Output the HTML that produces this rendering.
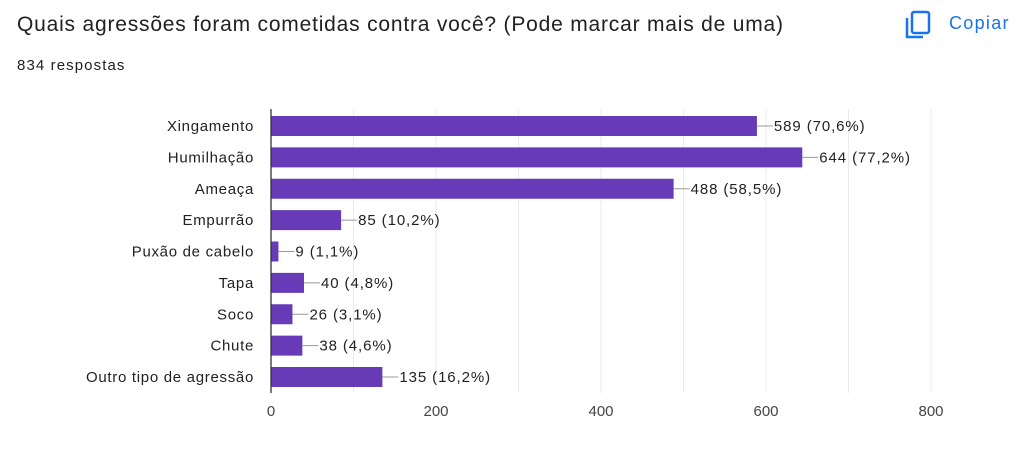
<!DOCTYPE html>
<html><head><meta charset="utf-8"><style>
body{margin:0;width:1024px;height:456px;background:#fff;font-family:"Liberation Sans",Arial,sans-serif;overflow:hidden;position:relative}
.t{position:absolute;left:17px;top:13px;font-size:21px;letter-spacing:0.8px;color:#202124}
.s{position:absolute;left:17px;top:57px;font-size:15px;letter-spacing:1.1px;color:#202124}
.c{position:absolute;left:949px;top:13px;font-size:18px;letter-spacing:1.3px;color:#1a73e8}
</style></head><body>
<div class="t">Quais agressões foram cometidas contra você? (Pode marcar mais de uma)</div>
<div class="s">834 respostas</div>
<svg style="position:absolute;left:905px;top:10px" width="28" height="30"><rect x="7" y="2" width="17" height="21" rx="2" fill="none" stroke="#1a73e8" stroke-width="2.5"/><path d="M2 8 V27 H18" fill="none" stroke="#1a73e8" stroke-width="2.5"/></svg>
<div class="c">Copiar</div>
<svg id="ch" width="1024" height="456" style="position:absolute;left:0;top:0"></svg>
<script>
const categories=["Xingamento","Humilhação","Ameaça","Empurrão","Puxão de cabelo","Tapa","Soco","Chute","Outro tipo de agressão"];
const values=[589,644,488,85,9,40,26,38,135];
const percents=["70,6%","77,2%","58,5%","10,2%","1,1%","4,8%","3,1%","4,6%","16,2%"];
const ticks=[0,200,400,600,800];
const gridTicks=[100,200,300,400,500,600,700,800];
const svg=document.getElementById('ch');const NS="http://www.w3.org/2000/svg";
const x=v=>271+v*660/800;const yc=i=>126+i*31.375;
function mk(t,a){const e=document.createElementNS(NS,t);for(const k in a)e.setAttribute(k,a[k]);svg.appendChild(e);return e;}
gridTicks.forEach(v=>{const g=mk('line',{x1:x(v),x2:x(v),y1:109,y2:393,stroke:'#ebebeb'});

});
ticks.forEach(v=>{const t=mk('text',{x:x(v),y:416,'text-anchor':'middle','font-size':15,fill:'#444'});t.textContent=v;

});
categories.forEach((c,i)=>{const y=yc(i);
const l=mk('text',{x:254,y:y+5,'text-anchor':'end','font-size':15,'letter-spacing':0.7,fill:'#222'});l.textContent=c;


const b=mk('rect',{x:x(0),y:y-10,width:x(values[i])-x(0),height:20,fill:'#673ab7'});


const ln=mk('line',{x1:x(values[i]),x2:x(values[i])+16,y1:y,y2:y,stroke:'#999'});


const v=mk('text',{x:x(values[i])+17,y:y+5,'font-size':15,'letter-spacing':0.9,fill:'#222'});v.textContent=values[i]+" ("+percents[i]+")";

});
const ax=mk('line',{x1:271,x2:271,y1:109,y2:393,stroke:'#333','stroke-width':1.3});


</script>
</body></html>
